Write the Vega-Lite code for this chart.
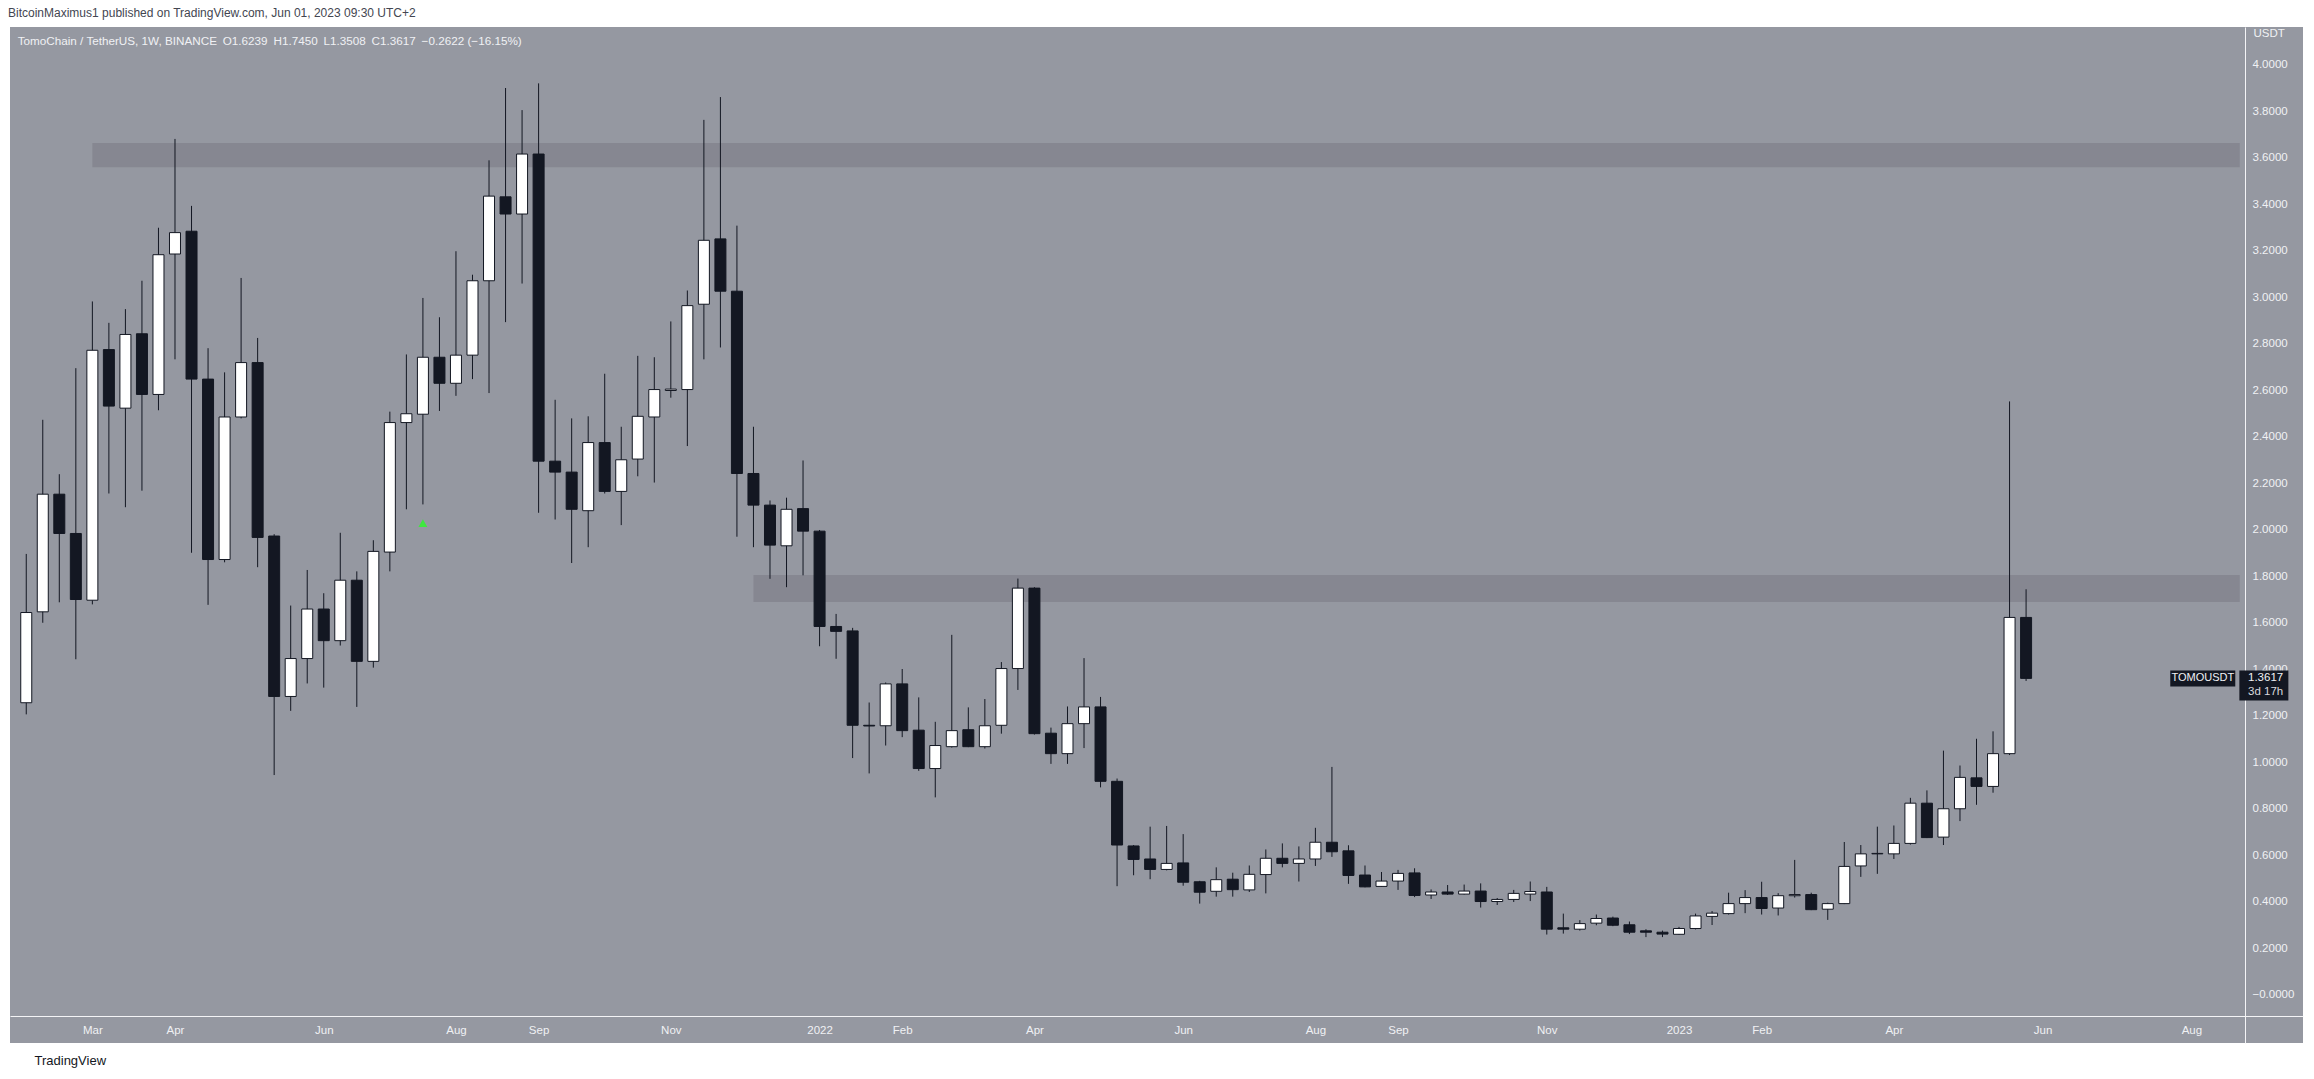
{
  "$schema": "https://vega.github.io/schema/vega-lite/v6.json",
  "width": 2293,
  "height": 1016,
  "autosize": {"type": "none"},
  "padding": {"left": 10, "top": 27, "right": 11, "bottom": 36},
  "background": "#ffffff",
  "config": {"view": {"fill": "#9598a1", "stroke": null}, "font": "Liberation Sans"},
  "title": {
    "text": "BitcoinMaximus1 published on TradingView.com, Jun 01, 2023 09:30 UTC+2",
    "subtitle": "\u200b\u00a0\u00a0\u00a0TomoChain / TetherUS, 1W, BINANCE\u2002O1.6239\u2002H1.7450\u2002L1.3508\u2002C1.3617\u2002\u22120.2622 (\u221216.15%)",
    "anchor": "start",
    "frame": "group",
    "offset": -22,
    "subtitlePadding": 16,
    "fontSize": 12,
    "subtitleFontSize": 11.7,
    "fontWeight": "normal",
    "font": "Liberation Sans",
    "subtitleFont": "Liberation Sans",
    "color": "#434651",
    "subtitleColor": "#f0f1f4",
    "dx": -2
  },
  "datasets": {
    "candles": [
      {"date":"2021-02-01","open":1.257,"high":1.897,"low":1.207,"close":1.645},
      {"date":"2021-02-08","open":1.648,"high":2.474,"low":1.601,"close":2.154},
      {"date":"2021-02-15","open":2.154,"high":2.240,"low":1.689,"close":1.985},
      {"date":"2021-02-22","open":1.985,"high":2.696,"low":1.444,"close":1.701},
      {"date":"2021-03-01","open":1.698,"high":2.983,"low":1.680,"close":2.773},
      {"date":"2021-03-08","open":2.776,"high":2.891,"low":2.157,"close":2.533},
      {"date":"2021-03-15","open":2.524,"high":2.950,"low":2.098,"close":2.841},
      {"date":"2021-03-22","open":2.844,"high":3.072,"low":2.169,"close":2.583},
      {"date":"2021-03-29","open":2.583,"high":3.300,"low":2.515,"close":3.184},
      {"date":"2021-04-05","open":3.187,"high":3.682,"low":2.734,"close":3.279},
      {"date":"2021-04-12","open":3.285,"high":3.394,"low":1.902,"close":2.649},
      {"date":"2021-04-19","open":2.649,"high":2.782,"low":1.678,"close":1.873},
      {"date":"2021-04-26","open":1.873,"high":2.678,"low":1.861,"close":2.486},
      {"date":"2021-05-03","open":2.486,"high":3.084,"low":2.480,"close":2.720},
      {"date":"2021-05-10","open":2.720,"high":2.826,"low":1.840,"close":1.968},
      {"date":"2021-05-17","open":1.974,"high":1.982,"low":0.946,"close":1.284},
      {"date":"2021-05-24","open":1.284,"high":1.675,"low":1.222,"close":1.447},
      {"date":"2021-05-31","open":1.447,"high":1.828,"low":1.340,"close":1.660},
      {"date":"2021-06-07","open":1.660,"high":1.728,"low":1.322,"close":1.524},
      {"date":"2021-06-14","open":1.524,"high":1.988,"low":1.503,"close":1.784},
      {"date":"2021-06-21","open":1.784,"high":1.822,"low":1.239,"close":1.435},
      {"date":"2021-06-28","open":1.435,"high":1.956,"low":1.408,"close":1.908},
      {"date":"2021-07-05","open":1.905,"high":2.509,"low":1.822,"close":2.462},
      {"date":"2021-07-12","open":2.462,"high":2.755,"low":2.089,"close":2.500},
      {"date":"2021-07-19","open":2.498,"high":2.998,"low":2.110,"close":2.743},
      {"date":"2021-07-26","open":2.743,"high":2.915,"low":2.512,"close":2.631},
      {"date":"2021-08-02","open":2.631,"high":3.199,"low":2.577,"close":2.752},
      {"date":"2021-08-09","open":2.752,"high":3.098,"low":2.649,"close":3.072},
      {"date":"2021-08-16","open":3.072,"high":3.590,"low":2.589,"close":3.436},
      {"date":"2021-08-23","open":3.433,"high":3.901,"low":2.894,"close":3.359},
      {"date":"2021-08-30","open":3.359,"high":3.806,"low":3.060,"close":3.617},
      {"date":"2021-09-06","open":3.617,"high":3.921,"low":2.074,"close":2.296},
      {"date":"2021-09-13","open":2.296,"high":2.560,"low":2.045,"close":2.249},
      {"date":"2021-09-20","open":2.249,"high":2.480,"low":1.858,"close":2.089},
      {"date":"2021-09-27","open":2.083,"high":2.489,"low":1.926,"close":2.376},
      {"date":"2021-10-04","open":2.376,"high":2.672,"low":2.157,"close":2.166},
      {"date":"2021-10-11","open":2.166,"high":2.444,"low":2.021,"close":2.302},
      {"date":"2021-10-18","open":2.305,"high":2.749,"low":2.231,"close":2.489},
      {"date":"2021-10-25","open":2.486,"high":2.743,"low":2.204,"close":2.604},
      {"date":"2021-11-01","open":2.600,"high":2.897,"low":2.569,"close":2.606},
      {"date":"2021-11-08","open":2.604,"high":3.030,"low":2.361,"close":2.965},
      {"date":"2021-11-15","open":2.971,"high":3.764,"low":2.734,"close":3.246},
      {"date":"2021-11-22","open":3.252,"high":3.862,"low":2.785,"close":3.027},
      {"date":"2021-11-29","open":3.027,"high":3.309,"low":1.971,"close":2.243},
      {"date":"2021-12-06","open":2.243,"high":2.444,"low":1.926,"close":2.107},
      {"date":"2021-12-13","open":2.107,"high":2.127,"low":1.790,"close":1.935},
      {"date":"2021-12-20","open":1.932,"high":2.139,"low":1.754,"close":2.089},
      {"date":"2021-12-27","open":2.092,"high":2.299,"low":1.805,"close":1.995},
      {"date":"2022-01-03","open":1.995,"high":2.000,"low":1.500,"close":1.585},
      {"date":"2022-01-10","open":1.585,"high":1.639,"low":1.446,"close":1.564},
      {"date":"2022-01-17","open":1.566,"high":1.579,"low":1.019,"close":1.160},
      {"date":"2022-01-24","open":1.160,"high":1.258,"low":0.953,"close":1.157},
      {"date":"2022-01-31","open":1.158,"high":1.344,"low":1.073,"close":1.338},
      {"date":"2022-02-07","open":1.338,"high":1.402,"low":1.109,"close":1.137},
      {"date":"2022-02-14","open":1.139,"high":1.280,"low":0.964,"close":0.974},
      {"date":"2022-02-21","open":0.974,"high":1.175,"low":0.850,"close":1.073},
      {"date":"2022-02-28","open":1.068,"high":1.549,"low":1.064,"close":1.137},
      {"date":"2022-03-07","open":1.141,"high":1.237,"low":1.066,"close":1.068},
      {"date":"2022-03-14","open":1.068,"high":1.273,"low":1.060,"close":1.158},
      {"date":"2022-03-21","open":1.160,"high":1.432,"low":1.124,"close":1.404},
      {"date":"2022-03-28","open":1.404,"high":1.791,"low":1.312,"close":1.750},
      {"date":"2022-04-04","open":1.750,"high":1.754,"low":1.120,"close":1.124},
      {"date":"2022-04-11","open":1.126,"high":1.150,"low":0.994,"close":1.038},
      {"date":"2022-04-18","open":1.038,"high":1.241,"low":0.994,"close":1.167},
      {"date":"2022-04-25","open":1.167,"high":1.449,"low":1.062,"close":1.239},
      {"date":"2022-05-02","open":1.239,"high":1.282,"low":0.893,"close":0.919},
      {"date":"2022-05-09","open":0.919,"high":0.931,"low":0.468,"close":0.645},
      {"date":"2022-05-16","open":0.641,"high":0.645,"low":0.515,"close":0.583},
      {"date":"2022-05-23","open":0.585,"high":0.724,"low":0.498,"close":0.540},
      {"date":"2022-05-30","open":0.540,"high":0.727,"low":0.536,"close":0.566},
      {"date":"2022-06-06","open":0.568,"high":0.692,"low":0.470,"close":0.485},
      {"date":"2022-06-13","open":0.487,"high":0.491,"low":0.393,"close":0.442},
      {"date":"2022-06-20","open":0.446,"high":0.549,"low":0.423,"close":0.496},
      {"date":"2022-06-27","open":0.498,"high":0.526,"low":0.423,"close":0.453},
      {"date":"2022-07-04","open":0.452,"high":0.557,"low":0.443,"close":0.519},
      {"date":"2022-07-11","open":0.518,"high":0.626,"low":0.437,"close":0.588},
      {"date":"2022-07-18","open":0.588,"high":0.652,"low":0.549,"close":0.566},
      {"date":"2022-07-25","open":0.566,"high":0.639,"low":0.488,"close":0.585},
      {"date":"2022-08-01","open":0.585,"high":0.719,"low":0.555,"close":0.657},
      {"date":"2022-08-08","open":0.657,"high":0.981,"low":0.594,"close":0.616},
      {"date":"2022-08-15","open":0.620,"high":0.644,"low":0.478,"close":0.514},
      {"date":"2022-08-22","open":0.516,"high":0.557,"low":0.463,"close":0.465},
      {"date":"2022-08-29","open":0.467,"high":0.529,"low":0.465,"close":0.490},
      {"date":"2022-09-05","open":0.490,"high":0.538,"low":0.452,"close":0.523},
      {"date":"2022-09-12","open":0.525,"high":0.545,"low":0.421,"close":0.428},
      {"date":"2022-09-19","open":0.430,"high":0.454,"low":0.413,"close":0.443},
      {"date":"2022-09-26","open":0.443,"high":0.473,"low":0.430,"close":0.434},
      {"date":"2022-10-03","open":0.434,"high":0.475,"low":0.432,"close":0.447},
      {"date":"2022-10-10","open":0.447,"high":0.480,"low":0.376,"close":0.402},
      {"date":"2022-10-17","open":0.402,"high":0.417,"low":0.387,"close":0.411},
      {"date":"2022-10-24","open":0.411,"high":0.452,"low":0.400,"close":0.437},
      {"date":"2022-10-31","open":0.434,"high":0.488,"low":0.404,"close":0.445},
      {"date":"2022-11-07","open":0.443,"high":0.465,"low":0.260,"close":0.283},
      {"date":"2022-11-14","open":0.289,"high":0.350,"low":0.264,"close":0.283},
      {"date":"2022-11-21","open":0.283,"high":0.322,"low":0.277,"close":0.307},
      {"date":"2022-11-28","open":0.309,"high":0.346,"low":0.300,"close":0.329},
      {"date":"2022-12-05","open":0.331,"high":0.337,"low":0.296,"close":0.300},
      {"date":"2022-12-12","open":0.302,"high":0.316,"low":0.262,"close":0.270},
      {"date":"2022-12-19","open":0.276,"high":0.283,"low":0.249,"close":0.270},
      {"date":"2022-12-26","open":0.270,"high":0.277,"low":0.249,"close":0.262},
      {"date":"2023-01-02","open":0.261,"high":0.293,"low":0.259,"close":0.286},
      {"date":"2023-01-09","open":0.286,"high":0.350,"low":0.282,"close":0.340},
      {"date":"2023-01-16","open":0.338,"high":0.361,"low":0.301,"close":0.352},
      {"date":"2023-01-23","open":0.350,"high":0.440,"low":0.346,"close":0.393},
      {"date":"2023-01-30","open":0.393,"high":0.451,"low":0.352,"close":0.419},
      {"date":"2023-02-06","open":0.419,"high":0.487,"low":0.346,"close":0.372},
      {"date":"2023-02-13","open":0.374,"high":0.438,"low":0.342,"close":0.427},
      {"date":"2023-02-20","open":0.427,"high":0.581,"low":0.419,"close":0.432},
      {"date":"2023-02-27","open":0.432,"high":0.440,"low":0.365,"close":0.367},
      {"date":"2023-03-06","open":0.369,"high":0.397,"low":0.323,"close":0.393},
      {"date":"2023-03-13","open":0.393,"high":0.658,"low":0.391,"close":0.553},
      {"date":"2023-03-20","open":0.555,"high":0.645,"low":0.508,"close":0.607},
      {"date":"2023-03-27","open":0.607,"high":0.724,"low":0.521,"close":0.609},
      {"date":"2023-04-03","open":0.607,"high":0.729,"low":0.585,"close":0.652},
      {"date":"2023-04-10","open":0.652,"high":0.848,"low":0.647,"close":0.825},
      {"date":"2023-04-17","open":0.825,"high":0.880,"low":0.675,"close":0.677},
      {"date":"2023-04-24","open":0.679,"high":1.051,"low":0.645,"close":0.801},
      {"date":"2023-05-01","open":0.801,"high":0.987,"low":0.748,"close":0.936},
      {"date":"2023-05-08","open":0.934,"high":1.102,"low":0.818,"close":0.897},
      {"date":"2023-05-15","open":0.897,"high":1.134,"low":0.870,"close":1.038},
      {"date":"2023-05-22","open":1.038,"high":2.553,"low":1.032,"close":1.624},
      {"date":"2023-05-29","open":1.6239,"high":1.7450,"low":1.3508,"close":1.3617}
    ],
    "zones": [
      {"start":"2021-03-01","end":"2023-08-27T12:00:00Z","lo":3.56,"hi":3.665},
      {"start":"2021-12-06","end":"2023-08-27T12:00:00Z","lo":1.69,"hi":1.806}
    ],
    "marker": [{"date":"2021-07-19","price":2.03}],
    "last": [{"symbol":"TOMOUSDT","price":1.3617,"countdown":"3d 17h"}]
  },
  "layer": [
    {
      "data": {"name": "zones"},
      "mark": {"type": "rect", "color": "#868791"},
      "encoding": {
        "x": {
          "field": "start", "type": "temporal",
          "scale": {"type": "utc", "domain": [1611725912640, 1695268569600]},
          "axis": {
            "orient": "bottom", "offset": -27,
            "values": [
              {"year":2021,"month":3,"date":1,"utc":true},
              {"year":2021,"month":4,"date":5,"utc":true},
              {"year":2021,"month":6,"date":7,"utc":true},
              {"year":2021,"month":8,"date":2,"utc":true},
              {"year":2021,"month":9,"date":6,"utc":true},
              {"year":2021,"month":11,"date":1,"utc":true},
              {"year":2022,"month":1,"date":3,"utc":true},
              {"year":2022,"month":2,"date":7,"utc":true},
              {"year":2022,"month":4,"date":4,"utc":true},
              {"year":2022,"month":6,"date":6,"utc":true},
              {"year":2022,"month":8,"date":1,"utc":true},
              {"year":2022,"month":9,"date":5,"utc":true},
              {"year":2022,"month":11,"date":7,"utc":true},
              {"year":2023,"month":1,"date":2,"utc":true},
              {"year":2023,"month":2,"date":6,"utc":true},
              {"year":2023,"month":4,"date":3,"utc":true},
              {"year":2023,"month":6,"date":5,"utc":true},
              {"year":2023,"month":8,"date":7,"utc":true}
            ],
            "labelExpr": "utcmonth(datum.value) == 0 ? utcFormat(datum.value, '%Y') : utcFormat(datum.value, '%b')",
            "ticks": false, "grid": false,
            "domain": true, "domainColor": "#f4f4f6", "domainWidth": 1,
            "labelColor": "#f0f1f4", "labelFont": "Liberation Sans", "labelFontSize": 11.5,
            "labelPadding": 8, "labelFlush": false, "labelOverlap": false, "labelBound": false,
            "title": "TradingView", "titleX": 24, "titleY": 44, "titleAlign": "left", "titleBaseline": "middle",
            "titleColor": "#131722", "titleFont": "Liberation Sans", "titleFontSize": 13, "titleFontWeight": "normal",
            "zindex": 0
          }
        },
        "x2": {"field": "end"},
        "y": {
          "field": "lo", "type": "quantitative",
          "scale": {"domain": [-0.2065, 4.1634], "nice": false, "zero": false},
          "axis": {
            "orient": "right", "offset": -58,
            "values": [0,0.2,0.4,0.6,0.8,1,1.2,1.4,1.6,1.8,2,2.2,2.4,2.6,2.8,3,3.2,3.4,3.6,3.8,4],
            "labelExpr": "datum.value < 0.0001 ? '\u22120.0000' : format(datum.value, '.4f')",
            "ticks": false, "grid": false,
            "domain": true, "domainColor": "#f4f4f6", "domainWidth": 1,
            "labelColor": "#f0f1f4", "labelFont": "Liberation Sans", "labelFontSize": 11.5,
            "labelPadding": 7, "labelAlign": "left", "labelBaseline": "middle",
            "labelFlush": false, "labelOverlap": false, "labelBound": false,
            "title": "USDT", "titleAngle": 0, "titleX": 8, "titleY": 0, "titleAlign": "left", "titleBaseline": "top",
            "titleColor": "#f0f1f4", "titleFont": "Liberation Sans", "titleFontSize": 11.5, "titleFontWeight": "normal",
            "zindex": 0
          }
        },
        "y2": {"field": "hi"}
      }
    },
    {
      "data": {"name": "candles"},
      "mark": {"type": "rule", "color": "#131722", "strokeWidth": 1},
      "encoding": {
        "x": {"field": "date", "type": "temporal", "scale": {"type": "utc", "domain": [1611725912640, 1695268569600]}},
        "y": {"field": "low", "type": "quantitative", "scale": {"domain": [-0.2065, 4.1634], "nice": false, "zero": false}},
        "y2": {"field": "high"}
      }
    },
    {
      "data": {"name": "candles"},
      "mark": {"type": "bar", "size": 11, "stroke": "#131722", "strokeWidth": 1, "orient": "vertical"},
      "encoding": {
        "x": {"field": "date", "type": "temporal", "scale": {"type": "utc", "domain": [1611725912640, 1695268569600]}},
        "y": {"field": "open", "type": "quantitative", "scale": {"domain": [-0.2065, 4.1634], "nice": false, "zero": false}},
        "y2": {"field": "close"},
        "fill": {"condition": {"test": "datum.close >= datum.open", "value": "#ffffff"}, "value": "#131722"}
      }
    },
    {
      "data": {"name": "marker"},
      "mark": {"type": "point", "shape": "triangle-up", "filled": true, "color": "#3ee83e", "size": 80, "opacity": 1},
      "encoding": {
        "x": {"field": "date", "type": "temporal", "scale": {"type": "utc", "domain": [1611725912640, 1695268569600]}},
        "y": {"field": "price", "type": "quantitative", "scale": {"domain": [-0.2065, 4.1634], "nice": false, "zero": false}}
      }
    },
    {
      "data": {"name": "last"},
      "mark": {"type": "tick", "orient": "horizontal", "color": "#131722", "size": 65, "thickness": 16, "opacity": 1},
      "encoding": {
        "x": {"datum": {"year":2023,"month":8,"date":11,"hours":20,"utc":true}, "type": "temporal", "scale": {"type": "utc", "domain": [1611725912640, 1695268569600]}},
        "y": {"field": "price", "type": "quantitative", "scale": {"domain": [-0.2065, 4.1634], "nice": false, "zero": false}}
      }
    },
    {
      "data": {"name": "last"},
      "mark": {"type": "tick", "orient": "horizontal", "color": "#131722", "size": 49, "thickness": 30, "yOffset": 7, "opacity": 1},
      "encoding": {
        "x": {"datum": {"year":2023,"month":9,"date":6,"hours":17,"utc":true}, "type": "temporal", "scale": {"type": "utc", "domain": [1611725912640, 1695268569600]}},
        "y": {"field": "price", "type": "quantitative", "scale": {"domain": [-0.2065, 4.1634], "nice": false, "zero": false}}
      }
    },
    {
      "data": {"name": "last"},
      "mark": {"type": "text", "color": "#f0f1f4", "font": "Liberation Sans", "fontSize": 11, "align": "center", "baseline": "middle"},
      "encoding": {
        "x": {"datum": {"year":2023,"month":8,"date":11,"hours":20,"utc":true}, "type": "temporal", "scale": {"type": "utc", "domain": [1611725912640, 1695268569600]}},
        "y": {"field": "price", "type": "quantitative", "scale": {"domain": [-0.2065, 4.1634], "nice": false, "zero": false}},
        "text": {"field": "symbol"}
      }
    },
    {
      "data": {"name": "last"},
      "mark": {"type": "text", "color": "#f0f1f4", "font": "Liberation Sans", "fontSize": 11.5, "align": "left", "baseline": "middle"},
      "encoding": {
        "x": {"datum": {"year":2023,"month":8,"date":31,"utc":true}, "type": "temporal", "scale": {"type": "utc", "domain": [1611725912640, 1695268569600]}},
        "y": {"field": "price", "type": "quantitative", "scale": {"domain": [-0.2065, 4.1634], "nice": false, "zero": false}},
        "text": {"field": "price", "type": "quantitative", "format": ".4f"}
      }
    },
    {
      "data": {"name": "last"},
      "mark": {"type": "text", "color": "#d8d9de", "font": "Liberation Sans", "fontSize": 11.5, "align": "left", "baseline": "middle", "dy": 14},
      "encoding": {
        "x": {"datum": {"year":2023,"month":8,"date":31,"utc":true}, "type": "temporal", "scale": {"type": "utc", "domain": [1611725912640, 1695268569600]}},
        "y": {"field": "price", "type": "quantitative", "scale": {"domain": [-0.2065, 4.1634], "nice": false, "zero": false}},
        "text": {"field": "countdown"}
      }
    }
  ]
}
